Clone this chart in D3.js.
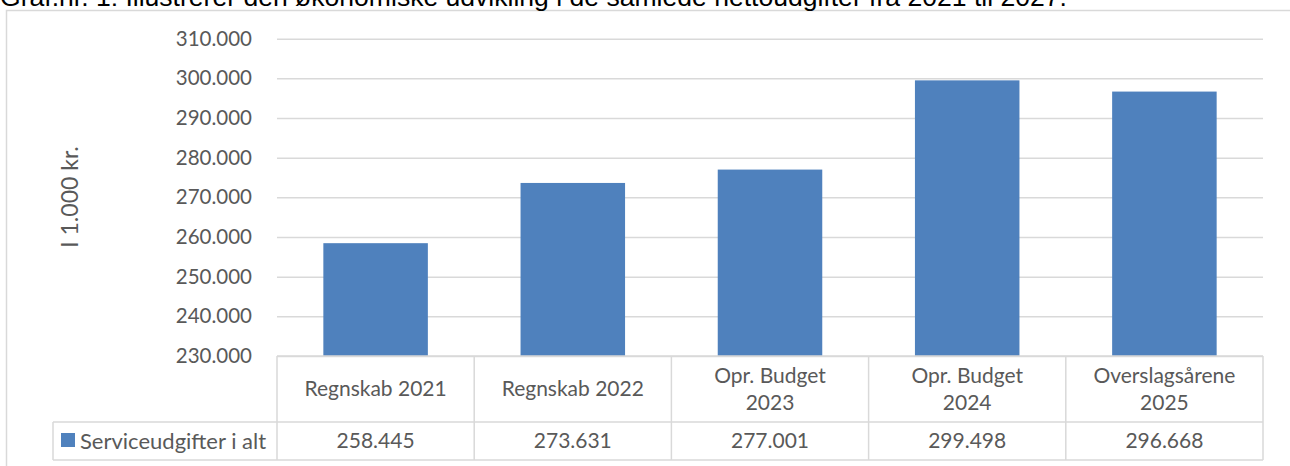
<!DOCTYPE html>
<html>
  <head>
    <title>Graf.nr. 1</title>
    <meta charset="utf-8" />
    <style>
      body {
        margin: 0;
        background: #fff;
        overflow: hidden;
      }
      text {
        font-family: Lato, "Noto Sans", sans-serif;
      }
    </style>
    <script src="https://d3js.org/d3.v7.min.js"></script>
  </head>
  <body>
    <div id="chart"></div>

    <script type="text/javascript">
      // data
      var categories = [
        "Regnskab 2021",
        "Regnskab 2022",
        "Opr. Budget\n2023",
        "Opr. Budget\n2024",
        "Overslagsårene\n2025",
      ];
      var values = [258445, 273631, 277001, 299498, 296668];
      var seriesName = "Serviceudgifter i alt";
      var yTicks = [230000, 240000, 250000, 260000, 270000, 280000, 290000, 300000, 310000];
      var titleText =
        "Graf.nr. 1: Illustrerer den økonomiske udvikling i de samlede nettoudgifter fra 2021 til 2027.";
      var yTitle = "I 1.000 kr.";

      //Width and height
      var w = 1290;
      var h = 466;

      // plot box (note: "top" is taken by window.top)
      var plotLeft = 277,
        plotRight = 1263,
        plotTop = 38.7,
        plotBottom = 356,
        headRow = 422,
        tableBottom = 460,
        legendLeft = 53;

      var grey = "#595959";
      var lineCol = "#d9d9d9";
      var barCol = "#4f81bd";

      var dk = d3.formatLocale({ decimal: ",", thousands: ".", grouping: [3], currency: ["", " kr."] });
      var fmt = dk.format(",.0f");

      var svg = d3
        .select("#chart")
        .append("svg")
        .attr("width", w)
        .attr("height", h);

      // outer frame (runs off the right and bottom)
      svg
        .append("rect")
        .attr("x", 6.5)
        .attr("y", 10.5)
        .attr("width", w + 20)
        .attr("height", h + 20)
        .attr("fill", "none")
        .attr("stroke", lineCol)
        .attr("stroke-width", 1.5);

      // title, clipped at the top like the source
      var title = svg
        .append("text")
        .attr("x", 0)
        .attr("y", 6)
        .style("font-family", "'Liberation Sans', Arial, sans-serif")
        .attr("font-size", 22)
        .attr("fill", "#000")
        .text(titleText);
      var tl = title.node().getComputedTextLength();
      title.attr("font-size", (22 * 1067) / tl);

      var y = d3.scaleLinear().domain([230000, 310000]).range([plotBottom, plotTop]);

      var x = d3
        .scaleBand()
        .domain(categories)
        .range([plotLeft, plotRight])
        .paddingInner(0.47)
        .paddingOuter(0.235);

      var col = d3.scaleBand().domain(categories).range([plotLeft, plotRight]).padding(0);

      // gridlines + tick labels
      var yAxis = d3
        .axisLeft(y)
        .tickValues(yTicks)
        .tickSize(-(plotRight - plotLeft))
        .tickPadding(25)
        .tickFormat(fmt);

      var ga = svg
        .append("g")
        .attr("transform", "translate(" + plotLeft + ",0)")
        .call(yAxis);
      ga.select(".domain").remove();
      ga.selectAll(".tick line").attr("stroke", lineCol).attr("stroke-width", 1.5);
      ga.selectAll(".tick text")
        .attr("fill", grey)
        .attr("font-size", 20.5)
        .style("font-family", "Lato, 'Noto Sans', sans-serif");

      // y title
      svg
        .append("text")
        .attr("transform", "translate(78,197)rotate(-90)")
        .attr("text-anchor", "middle")
        .attr("fill", grey)
        .attr("font-size", 23)
        .text(yTitle);

      // bars
      svg
        .selectAll("rect.bar")
        .data(values)
        .enter()
        .append("rect")
        .attr("class", "bar")
        .attr("x", function (d, i) {
          return x(categories[i]);
        })
        .attr("width", x.bandwidth())
        .attr("y", function (d) {
          return y(d);
        })
        .attr("height", function (d) {
          return y(230000) - y(d);
        })
        .attr("fill", barCol);

      // data table lines
      var tbl = svg.append("g").attr("stroke", lineCol).attr("stroke-width", 1.5);
      tbl.append("line").attr("x1", plotLeft).attr("x2", plotRight).attr("y1", plotBottom).attr("y2", plotBottom);
      tbl.append("line").attr("x1", legendLeft).attr("x2", plotRight).attr("y1", headRow).attr("y2", headRow);
      tbl.append("line").attr("x1", legendLeft).attr("x2", plotRight).attr("y1", tableBottom).attr("y2", tableBottom);
      tbl.append("line").attr("x1", legendLeft).attr("x2", legendLeft).attr("y1", headRow).attr("y2", tableBottom);
      var edges = categories.map(function (c) {
        return col(c);
      });
      edges.push(plotRight);
      tbl
        .selectAll("line.v")
        .data(edges)
        .enter()
        .append("line")
        .attr("class", "v")
        .attr("x1", function (d) {
          return d;
        })
        .attr("x2", function (d) {
          return d;
        })
        .attr("y1", plotBottom)
        .attr("y2", tableBottom);

      // header labels
      var heads = svg
        .selectAll("text.head")
        .data(categories)
        .enter()
        .append("text")
        .attr("class", "head")
        .attr("text-anchor", "middle")
        .attr("fill", grey)
        .attr("font-size", 21);
      heads.each(function (c) {
        var lines = c.split("\n");
        var cx = col(c) + col.bandwidth() / 2;
        var mid = (plotBottom + headRow) / 2;
        var lh = 27;
        var t = d3.select(this);
        lines.forEach(function (ln, k) {
          t.append("tspan")
            .attr("x", cx)
            .attr("y", mid + (k - (lines.length - 1) / 2) * lh)
            .attr("dy", "0.35em")
            .text(ln);
        });
      });

      // values row
      svg
        .selectAll("text.val")
        .data(values)
        .enter()
        .append("text")
        .attr("class", "val")
        .attr("text-anchor", "middle")
        .attr("fill", grey)
        .attr("font-size", 21)
        .attr("x", function (d, i) {
          return col(categories[i]) + col.bandwidth() / 2;
        })
        .attr("y", (headRow + tableBottom) / 2)
        .attr("dy", "0.35em")
        .text(function (d) {
          return fmt(d);
        });

      // legend key in table
      svg
        .append("rect")
        .attr("x", 61)
        .attr("y", 433)
        .attr("width", 14)
        .attr("height", 14)
        .attr("fill", barCol);
      svg
        .append("text")
        .attr("x", 80)
        .attr("y", (headRow + tableBottom) / 2)
        .attr("dy", "0.35em")
        .attr("fill", grey)
        .attr("font-size", 22)
        .text(seriesName);
    </script>
  </body>
</html>
